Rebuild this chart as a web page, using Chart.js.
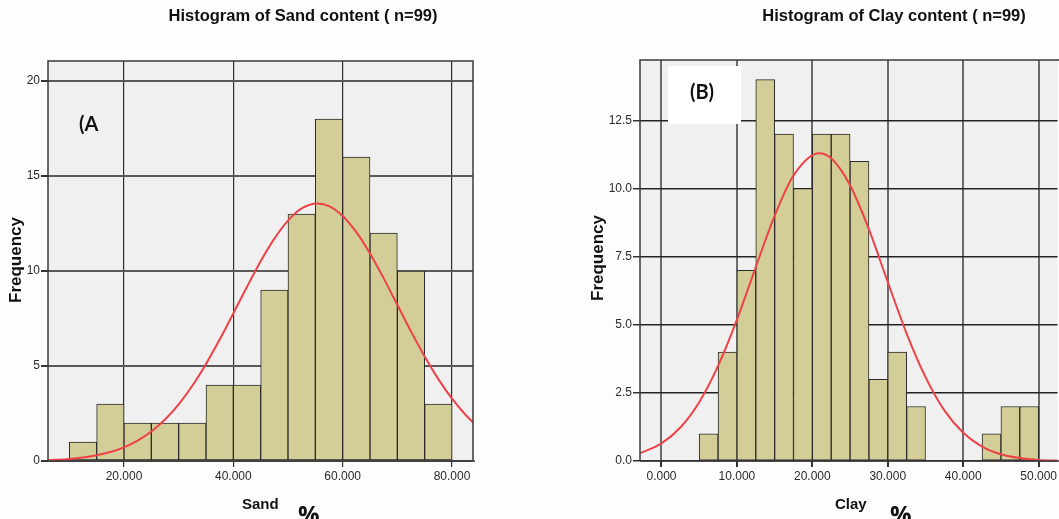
<!DOCTYPE html>
<html><head><meta charset="utf-8">
<script src="https://cdn.jsdelivr.net/npm/chart.js@4/dist/chart.umd.min.js"></script>
<style>
html,body{margin:0;padding:0;background:#fdfdfd;width:1059px;height:519px;overflow:hidden;}
#wrapA{position:absolute;left:0;top:0;width:530px;height:519px;}
#wrapB{position:absolute;left:530px;top:0;width:529px;height:519px;}
canvas{display:block;}
</style></head><body>
<div id="wrapA"><canvas id="cA" width="530" height="519"></canvas></div>
<div id="wrapB"><canvas id="cB" width="529" height="519"></canvas></div>
<script>
// ---------- Data: Sand ----------
const sandBinWidth = 5;
const sandBinStarts = [10, 15, 20, 25, 30, 35, 40, 45, 50, 55, 60, 65, 70, 75];
const sandCounts    = [1, 3, 2, 2, 2, 4, 4, 9, 13, 18, 16, 12, 10, 3];
const sandCurveX = [6, 10, 12.5, 15, 17.5, 20, 22.5, 25, 27.5, 30, 32.5, 35, 37.5, 40, 42.5, 45, 47.5, 50, 52.5, 55.4, 57.5, 60, 62.5, 65, 67.5, 70, 72.5, 75, 77.5, 80, 82.5, 84];
const sandCurveY = [0.04, 0.11, 0.18, 0.30, 0.47, 0.72, 1.07, 1.55, 2.18, 2.98, 3.96, 5.11, 6.39, 7.77, 9.17, 10.51, 11.70, 12.65, 13.29, 13.55, 13.41, 12.89, 12.04, 10.92, 9.61, 8.22, 6.82, 5.50, 4.31, 3.28, 2.42, 1.99];
const sandXTicks = [20, 40, 60, 80];
const sandYTicks = [0, 5, 10, 15, 20];

// ---------- Data: Clay ----------
const clayBinWidth = 2.5;
const clayBinStarts = [5, 7.5, 10, 12.5, 15, 17.5, 20, 22.5, 25, 27.5, 30, 32.5, 35, 37.5, 40, 42.5, 45, 47.5];
const clayCounts    = [1, 4, 7, 14, 12, 10, 12, 12, 11, 3, 4, 2, 0, 0, 0, 1, 2, 2];
const clayCurveX = [-2.8, 0, 2.5, 5, 7.5, 10, 12.5, 15, 17.5, 20.9, 22.5, 25, 27.5, 30, 32.5, 35, 37.5, 40, 42.5, 45, 47.5, 50, 53];
const clayCurveY = [0.29, 0.65, 1.23, 2.16, 3.49, 5.19, 7.12, 9.00, 10.48, 11.30, 11.11, 10.12, 8.50, 6.57, 4.68, 3.08, 1.86, 1.04, 0.53, 0.25, 0.11, 0.04, 0.01];
const clayXTicks = [0, 10, 20, 30, 40, 50];
const clayYTicks = [0, 2.5, 5, 7.5, 10, 12.5];

const BAR_FILL = '#d3ce97', BAR_EDGE = '#2b2b2b', CURVE = '#ee4248';
const FONT = '"Liberation Sans", Arial, sans-serif';

function histData(starts, w, counts){ return starts.map((s,i)=>({x:s+w/2, y:counts[i]})); }
function curveData(xs, ys){ return xs.map((x,i)=>({x:x, y:ys[i]})); }

const decorPlugin = {
  id: 'decor',
  beforeDraw(chart, args, o){
    const {ctx, chartArea:a} = chart;
    ctx.save();
    ctx.fillStyle = '#f0f0f0';
    ctx.fillRect(a.left, a.top, a.right-a.left, a.bottom-a.top);
    ctx.restore();
  },
  beforeDatasetsDraw(chart, args, o){
    const ctx = chart.ctx;
    if (o.box){
      ctx.save(); ctx.fillStyle = '#ffffff';
      ctx.fillRect(o.box[0], o.box[1], o.box[2], o.box[3]);
      ctx.restore();
    }
  },
  afterDatasetsDraw(chart, args, o){
    const {ctx, chartArea:a} = chart;
    ctx.save();
    ctx.strokeStyle = '#3a3a3a'; ctx.lineWidth = 1.5;
    ctx.beginPath();
    ctx.moveTo(a.left, a.bottom); ctx.lineTo(a.left, a.top);
    if (o.rightEdge){ ctx.lineTo(a.right, a.top); ctx.lineTo(a.right, a.bottom); }
    else { ctx.lineTo(a.right+2, a.top); }
    ctx.moveTo(a.left, a.bottom); ctx.lineTo(a.right+2, a.bottom);
    ctx.stroke();
    (o.texts||[]).forEach(t=>{
      ctx.save();
      ctx.font = t.font; ctx.fillStyle = t.color || '#111';
      ctx.textAlign = t.align || 'left'; ctx.textBaseline = t.baseline || 'middle';
      ctx.translate(t.x, t.y);
      if (t.rot) ctx.rotate(t.rot);
      ctx.fillText(t.text, 0, 0);
      ctx.restore();
    });
    ctx.restore();
  }
};

function makeChart(id, cfg){
  return new Chart(document.getElementById(id), {
    data: {
      datasets: [
        { type:'line', data: curveData(cfg.cx, cfg.cy), borderColor: CURVE, borderWidth: 2,
          pointRadius: 0, tension: 0.4, cubicInterpolationMode: 'monotone', fill:false, order: 1 },
        { type:'bar', data: histData(cfg.starts, cfg.w, cfg.counts), backgroundColor: BAR_FILL,
          borderColor: BAR_EDGE, borderWidth: 1, borderSkipped: false,
          barPercentage: 1, categoryPercentage: 1, grouped: false, order: 2 }
      ]
    },
    options: {
      responsive: false, animation: false, devicePixelRatio: 1,
      layout: { padding: cfg.padding },
      plugins: { legend:{display:false}, tooltip:{enabled:false}, title:{display:false},
        decor: { texts: cfg.texts, box: cfg.box, rightEdge: cfg.rightEdge } },
      scales: {
        x: { type:'linear', min: cfg.xmin, max: cfg.xmax, offset:false,
          afterBuildTicks: s => { s.ticks = cfg.xticks.map(v=>({value:v})); },
          afterFit: s => { s.height = 58; },
          border: { display:false },
          grid: { offset:false, color: cfg.xgrid[0], lineWidth: cfg.xgrid[1], tickColor:'#333', tickLength: 6, drawTicks:true },
          ticks: { color:'#2a2a2a', font:{family:FONT, size:12}, padding: 2, maxRotation:0,
            callback: v => Number(v).toFixed(3) } },
        y: { type:'linear', min: 0, max: cfg.ymax,
          afterBuildTicks: s => { s.ticks = cfg.yticks.map(v=>({value:v})); },
          afterFit: s => { s.width = cfg.ywidth; },
          border: { display:false },
          grid: { offset:false, color: cfg.ygrid[0], lineWidth: cfg.ygrid[1], tickColor:'#333', tickLength: 7 },
          ticks: { color:'#2a2a2a', font:{family:FONT, size:12}, padding: 1,
            callback: cfg.yfmt } }
      }
    },
    plugins: [decorPlugin]
  });
}

makeChart('cA', {
  cx: sandCurveX, cy: sandCurveY, starts: sandBinStarts, w: sandBinWidth, counts: sandCounts,
  xmin: 6.1, xmax: 83.84, ymax: 21.05, xticks: sandXTicks, yticks: sandYTicks,
  padding: {left:0, top:61, right:57, bottom:0}, ywidth: 48, rightEdge: true,
  xgrid: ['#2e2e2e', 1.2], ygrid: ['#5a5a5a', 2],
  yfmt: v => String(v),
  texts: [
    {text:'Histogram of Sand content ( n=99)', x:303, y:16, align:'center', font:'bold 16.5px '+FONT},
    {text:'Frequency', x:16, y:260, align:'center', rot:-Math.PI/2, font:'bold 17px '+FONT},
    {text:'(A', x:79, y:125, font:'bold 20px Lato, "Open Sans", sans-serif'},
    {text:'Sand', x:242, y:505, font:'bold 15px '+FONT},
    {text:'%', x:298, y:523, baseline:'alphabetic', font:'bold 24px "Open Sans", sans-serif'}
  ]
});

makeChart('cB', {
  cx: clayCurveX, cy: clayCurveY, starts: clayBinStarts, w: clayBinWidth, counts: clayCounts,
  xmin: -2.85, xmax: 52.5, ymax: 14.72, xticks: clayXTicks, yticks: clayYTicks,
  padding: {left:0, top:60, right:0, bottom:0}, ywidth: 110, rightEdge: false,
  xgrid: ['#6a6a6a', 2], ygrid: ['#222222', 1.5],
  yfmt: v => Number(v).toFixed(1),
  box: [138, 66, 73, 58],
  texts: [
    {text:'Histogram of Clay content ( n=99)', x:364, y:16, align:'center', font:'bold 16.5px '+FONT},
    {text:'Frequency', x:68, y:258, align:'center', rot:-Math.PI/2, font:'bold 17px '+FONT},
    {text:'(B)', x:172, y:93, align:'center', font:'bold 20px Lato, "Open Sans", sans-serif'},
    {text:'Clay', x:305, y:505, font:'bold 15px '+FONT},
    {text:'%', x:360, y:523, baseline:'alphabetic', font:'bold 24px "Open Sans", sans-serif'}
  ]
});
</script>
</body></html>
